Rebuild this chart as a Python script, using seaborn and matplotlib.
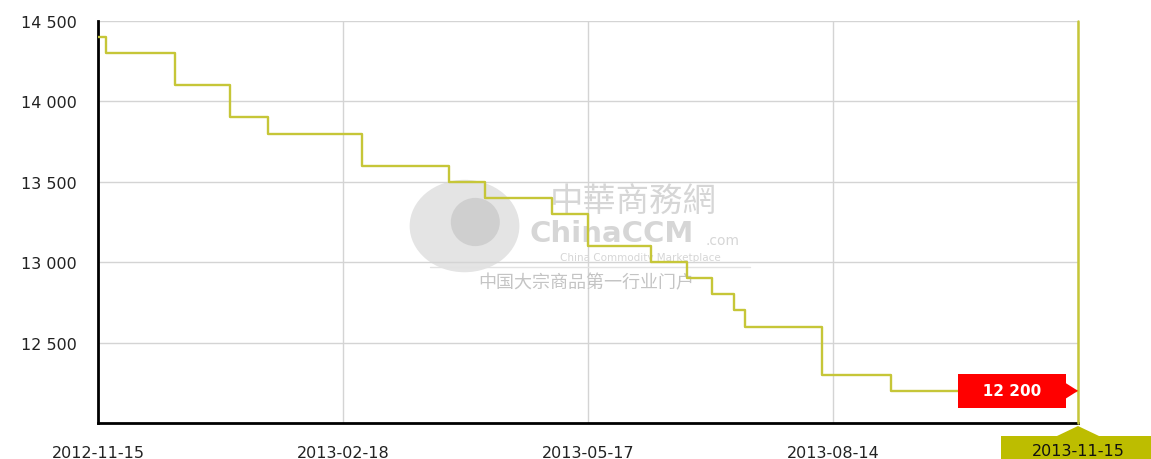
import numpy as np
import pandas as pd
import matplotlib
matplotlib.use("Agg")
import matplotlib.pyplot as plt
import seaborn as sns
from matplotlib.patches import Rectangle, Polygon, Ellipse
from matplotlib.ticker import FuncFormatter, FixedLocator

# ---- data ----
change_dates = ["2012-11-15", "2012-11-18", "2012-12-15", "2013-01-05", "2013-01-20",
                "2013-02-25", "2013-03-28", "2013-04-10", "2013-05-04", "2013-05-17",
                "2013-06-09", "2013-06-22", "2013-07-01", "2013-07-09", "2013-07-13",
                "2013-08-10", "2013-09-05", "2013-11-15"]
prices = [14400, 14300, 14100, 13900, 13800,
          13600, 13500, 13400, 13300, 13100,
          13000, 12900, 12800, 12700, 12600,
          12300, 12200, 12200]
tick_dates = ["2012-11-15", "2013-02-18", "2013-05-17", "2013-08-14", "2013-11-15"]
y_ticks = [12500, 13000, 13500, 14000, 14500]
last_label = "12 200"
last_price = 12200

# ---- ordinal (category-like) x scale: ticks evenly spaced ----
tick_ord = np.array([pd.Timestamp(d).toordinal() for d in tick_dates], dtype=float)
tick_idx = np.arange(len(tick_dates), dtype=float)
def to_pos(dates):
    o = np.array([pd.Timestamp(d).toordinal() for d in dates], dtype=float)
    return np.interp(o, tick_ord, tick_idx)

df = pd.DataFrame({"pos": to_pos(change_dates), "price": prices})

sns.set_style("white")
plt.rcParams["font.family"] = ["DejaVu Sans"]

W, H = 1151, 460
fig = plt.figure(figsize=(W / 100, H / 100), dpi=100)
ax = fig.add_axes([98 / W, 1 - 424 / H, (1078 - 98) / W, (424 - 22) / H])

line_col = "#c6c638"
olive = "#bdbd00"

# watermark
wm = "#d6d6d6"
ax.add_patch(Ellipse((0.374, 0.49), 0.112, 0.23, transform=ax.transAxes,
                     fc="#e4e4e4", ec="none", zorder=0.5))
ax.add_patch(Ellipse((0.385, 0.50), 0.05, 0.12, transform=ax.transAxes,
                     fc="#cfcfcf", ec="none", zorder=0.6))
ax.text(0.546, 0.552, "中華商務網", transform=ax.transAxes, ha="center", va="center",
        fontsize=24, color=wm, family=["Noto Sans CJK TC", "DejaVu Sans"], zorder=0.7)
ax.text(0.524, 0.472, "ChinaCCM", transform=ax.transAxes, ha="center", va="center",
        fontsize=21, color=wm, fontweight="bold", zorder=0.7)
ax.text(0.637, 0.455, ".com", transform=ax.transAxes, ha="center", va="center",
        fontsize=10, color=wm, zorder=0.7)
ax.text(0.553, 0.414, "China Commodity Marketplace", transform=ax.transAxes,
        ha="center", va="center", fontsize=7.5, color=wm, zorder=0.7)
ax.plot([0.339, 0.665], [0.388, 0.388], transform=ax.transAxes, color="#e2e2e2",
        lw=1, zorder=0.7)
ax.text(0.498, 0.351, "中国大宗商品第一行业门户", transform=ax.transAxes, ha="center",
        va="center", fontsize=13, color="#c4c4c4",
        family=["Noto Sans CJK SC", "DejaVu Sans"], zorder=0.7)

sns.lineplot(data=df, x="pos", y="price", ax=ax, color=line_col, lw=1.7,
             drawstyle="steps-post", zorder=3, legend=False)

ax.set_xlim(tick_idx[0], tick_idx[-1])
ax.set_ylim(12000, 14500)
ax.xaxis.set_major_locator(FixedLocator(tick_idx))
ax.set_xticklabels(tick_dates[:-1] + [""])
ax.yaxis.set_major_locator(FixedLocator(y_ticks))
ax.yaxis.set_major_formatter(FuncFormatter(lambda v, p: f"{int(v):,}".replace(",", " ")))
ax.set_xlabel("")
ax.set_ylabel("")

ax.grid(True, color="#d4d4d4", lw=1, zorder=0)
ax.set_axisbelow(True)
for s in ["top", "right"]:
    ax.spines[s].set_visible(False)
for s in ["left", "bottom"]:
    ax.spines[s].set_color("black")
    ax.spines[s].set_linewidth(2)
ax.tick_params(axis="y", direction="out", length=10, width=1.3, color="black",
               labelsize=11.5, pad=5, labelcolor="#222222")
ax.tick_params(axis="x", direction="out", length=7, width=1.3, color="black",
               labelsize=11.5, pad=9, labelcolor="#222222")

# crosshair at last point
ax.axvline(tick_idx[-1], color=line_col, lw=1.8, zorder=4, clip_on=False)

# red value label with arrow tip
last_pos = to_pos([change_dates[-1]])[0]
ax.annotate("", xy=(last_pos, last_price), xytext=(-14, 0), textcoords="offset pixels",
            arrowprops=dict(arrowstyle="-|>,head_length=0.95,head_width=0.6",
                        fc="red", ec="red", lw=0, shrinkA=0, shrinkB=0),
            zorder=6, annotation_clip=False)
ax.annotate("   " + last_label + "   ", xy=(last_pos, last_price), xytext=(-66, 0),
            textcoords="offset pixels", ha="center", va="center", color="white",
            fontsize=11, fontweight="bold",
            bbox=dict(boxstyle="square,pad=0.62", fc="red", ec="none"),
            zorder=6, annotation_clip=False)

# highlighted last x label
fig.patches.append(Rectangle((1001 / W, 0), 1 - 1001 / W, (460 - 437) / H,
                             transform=fig.transFigure, fc=olive, ec="none", zorder=-1))
fig.patches.append(Polygon([(1057 / W, (460 - 437) / H), (1078 / W, (460 - 427) / H),
                            (1099 / W, (460 - 437) / H)], closed=True,
                           transform=fig.transFigure, fc=olive, ec="none", zorder=-1))
fig.text(1078 / W, 1 - 452 / H, tick_dates[-1], ha="center", va="center",
         fontsize=11.5, color="#111111")

fig.savefig("out.png", dpi=100)
